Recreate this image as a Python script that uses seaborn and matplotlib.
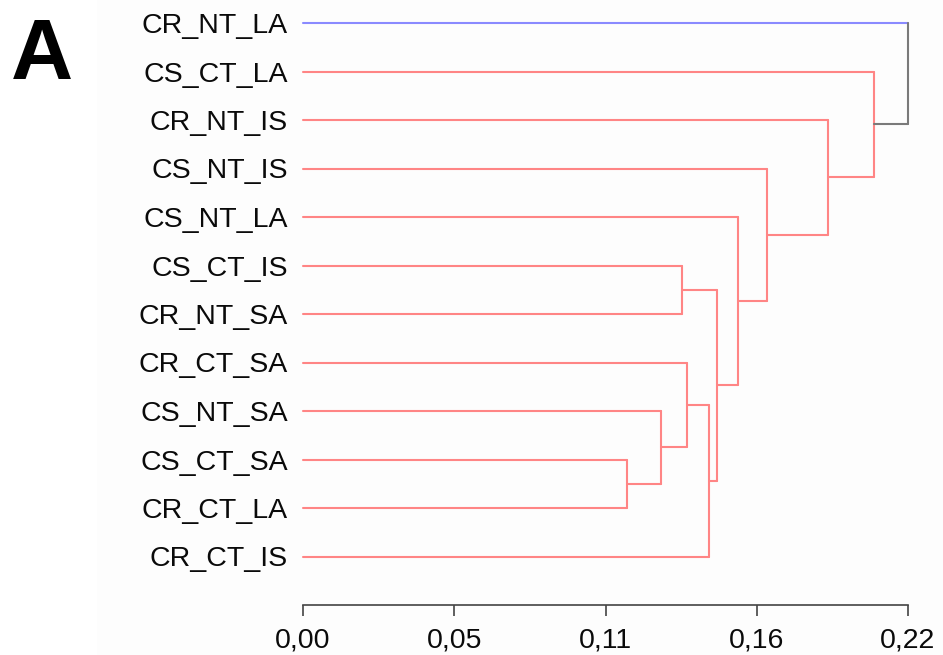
import matplotlib
matplotlib.use("Agg")
import matplotlib.pyplot as plt
import seaborn as sns
import pandas as pd
import numpy as np

# ---- data ----
leaves = ["CR_NT_LA", "CS_CT_LA", "CR_NT_IS", "CS_NT_IS", "CS_NT_LA", "CS_CT_IS",
          "CR_NT_SA", "CR_CT_SA", "CS_NT_SA", "CS_CT_SA", "CR_CT_LA", "CR_CT_IS"]
merge_a = ["CS_CT_SA", "CS_NT_SA", "CR_CT_SA", "CS_CT_IS", "n3", "n4",
           "CS_NT_LA", "CS_NT_IS", "CR_NT_IS", "CS_CT_LA", "CR_NT_LA"]
merge_b = ["CR_CT_LA", "n1", "n2", "CR_NT_SA", "CR_CT_IS", "n5",
           "n6", "n7", "n8", "n9", "n10"]
heights = [0.1179, 0.1303, 0.1397, 0.1377, 0.1477, 0.1507,
           0.1583, 0.1687, 0.1908, 0.2075, 0.22]
arm_a_color = ["red"] * 10 + ["blue"]
arm_b_color = ["red"] * 10 + ["gray"]
vert_color = ["red"] * 10 + ["gray"]
tick_pos = [0.0, 0.055, 0.11, 0.165, 0.22]
tick_labels = ["0,00", "0,05", "0,11", "0,16", "0,22"]
palette = {"red": "#ff8585", "blue": "#8a8aff", "gray": "#7a7a7a"}

# ---- build segments ----
pos = {name: (0.0, float(i)) for i, name in enumerate(leaves)}
rows = []
seg = 0
for k, (a, b, h) in enumerate(zip(merge_a, merge_b, heights)):
    xa, ya = pos[a]
    xb, yb = pos[b]
    for (x0, y0, x1, y1, c) in [(xa, ya, h, ya, arm_a_color[k]),
                                 (xb, yb, h, yb, arm_b_color[k]),
                                 (h, ya, h, yb, vert_color[k])]:
        rows.append(dict(x=x0, y=y0, seg=seg, color=c))
        rows.append(dict(x=x1, y=y1, seg=seg, color=c))
        seg += 1
    pos["n%d" % (k + 1)] = (h, (ya + yb) / 2.0)
df = pd.DataFrame(rows)

sns.set_theme(style="white")
plt.rcParams["font.family"] = ["Liberation Sans", "DejaVu Sans"]

fig = plt.figure(figsize=(9.43, 6.55), dpi=100)
fig.patch.set_facecolor("white")
# faint off-white panel behind the dendrogram
bg = matplotlib.patches.Rectangle((97 / 943, 0), 1, 1, transform=fig.transFigure,
                                  facecolor="#fdfdfd", edgecolor="none", zorder=-10)
fig.patches.append(bg)

ax = fig.add_axes([303 / 943, (655 - 605) / 655, 605 / 943, 582 / 655])
ax.set_facecolor("none")
ax.set_zorder(5)
sns.lineplot(data=df, x="x", y="y", units="seg", estimator=None, sort=False,
             hue="color", palette=palette, legend=False, ax=ax, linewidth=1.5)
for line in ax.lines:
    line.set_clip_on(False)

ax.set_xlim(0, 0.22)
ax.set_ylim(len(leaves), 0)
ax.set_yticks(range(len(leaves)))
ax.set_yticklabels(leaves, fontsize=20.5, color="#0a0a0a")
ax.tick_params(axis="y", length=0, pad=11)
ax.set_xticks(tick_pos)
ax.set_xticklabels(tick_labels, fontsize=20.5, color="#0a0a0a")
ax.tick_params(axis="x", length=8, width=1.2, color="#444444", direction="out", pad=8, bottom=True)
for s in ["top", "left", "right"]:
    ax.spines[s].set_visible(False)
ax.spines["bottom"].set_color("#444444")
ax.spines["bottom"].set_linewidth(1.2)
ax.set_xlabel("")
ax.set_ylabel("")

fig.text(11 / 943, 1 - 79 / 655, "A", fontsize=62, fontweight="bold", color="black",
         ha="left", va="baseline", zorder=10)

fig.savefig("out.png", dpi=100)
